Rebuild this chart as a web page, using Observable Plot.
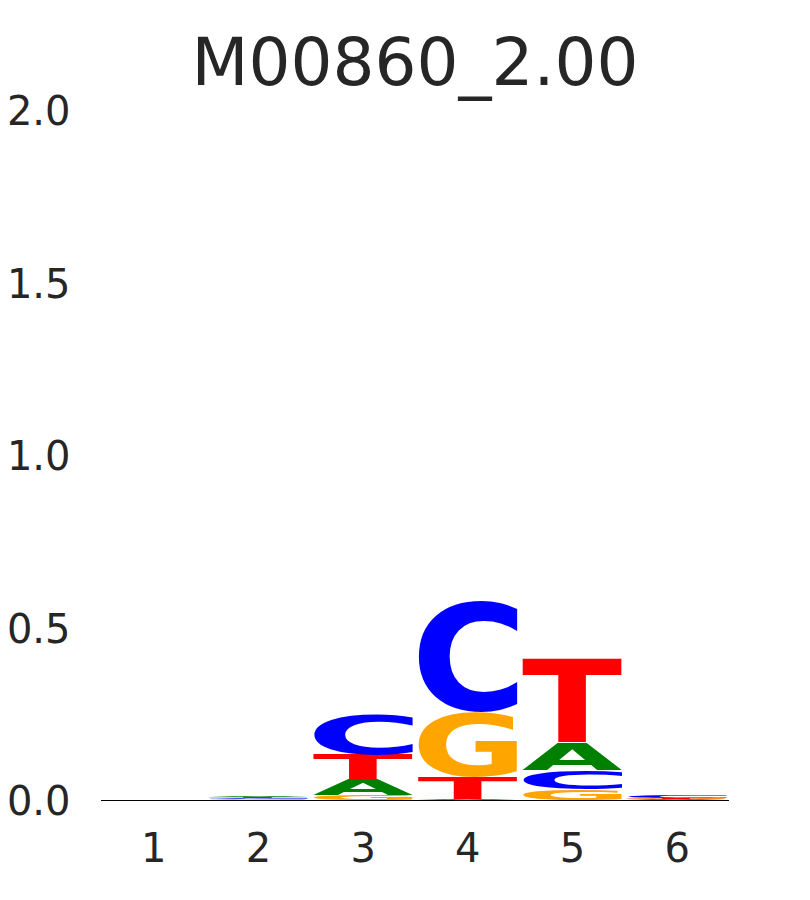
<!DOCTYPE html>
<html>
<head>
<meta charset="utf-8">
<script src="https://cdn.jsdelivr.net/npm/d3@7"></script>
<script src="https://cdn.jsdelivr.net/npm/@observablehq/plot@0.6"></script>
<style>
  body { margin: 0; background: #fff; font-family: "DejaVu Sans", sans-serif; }
  #title { box-sizing: border-box; height: 100px; padding-top: 24px; width: 830px; text-align: center;
           font-size: 66px; line-height: normal; color: #262626; }
</style>
</head>
<body>
<div id="title">M00860_2.00</div>
<div id="chart"></div>
<script>
// Sequence-logo heights (bits) per position
const positions = [1, 2, 3, 4, 5, 6];
const letters = ["A", "C", "G", "T"];
const heightA = [0, 0.005, 0.0435, 0.003, 0.081, 0.0015];
const heightC = [0, 0.003, 0.116, 0.321, 0.055, 0.006];
const heightG = [0, 0.002, 0.0145, 0.190, 0.032, 0.0015];
const heightT = [0, 0.0035, 0.075, 0.064, 0.246, 0.003];
const letterColors = ["#008000", "#0000ff", "#ffa500", "#ff0000"];
const yTicks = [0, 0.5, 1.0, 1.5, 2.0];

const series = {A: heightA, C: heightC, G: heightG, T: heightT};
const colorOf = Object.fromEntries(letters.map((l, i) => [l, letterColors[i]]));

// stack letters per position, smallest at bottom
const rows = [];
positions.forEach((p, i) => {
  const items = letters.map(l => ({letter: l, value: series[l][i]})).filter(d => d.value > 0)
    .sort((a, b) => a.value - b.value);
  let cum = 0;
  for (const it of items) {
    rows.push({pos: p, letter: it.letter, y1: cum, y2: cum + it.value, color: colorOf[it.letter]});
    cum += it.value;
  }
});

// ink metrics of each glyph
const FONT_SIZE = 100;
const canvas = document.createElement("canvas");
const ctx = canvas.getContext("2d");
ctx.font = `bold ${FONT_SIZE}px "DejaVu Sans"`;
ctx.textAlign = "left";
ctx.textBaseline = "alphabetic";
const metrics = {};
for (const l of letters) {
  const m = ctx.measureText(l);
  metrics[l] = {
    left: m.actualBoundingBoxLeft, right: m.actualBoundingBoxRight,
    asc: m.actualBoundingBoxAscent, desc: m.actualBoundingBoxDescent
  };
}

function renderLetters(index, scales, values) {
  const g = d3.create("svg:g");
  for (const i of index) {
    const d = rows[i];
    const xa = Math.min(values.x1[i], values.x2[i]);
    const xb = Math.max(values.x1[i], values.x2[i]);
    const yTop = Math.min(values.y1[i], values.y2[i]);
    const yBot = Math.max(values.y1[i], values.y2[i]);
    const w = xb - xa, h = yBot - yTop;
    if (h <= 0) continue;
    const m = metrics[d.letter];
    const sx = w / (m.left + m.right);
    const sy = h / (m.asc + m.desc);
    g.append("text")
      .attr("transform", `translate(${xa + m.left * sx},${yBot - m.desc * sy}) scale(${sx},${sy})`)
      .attr("font-family", "DejaVu Sans")
      .attr("font-weight", "bold")
      .attr("font-size", FONT_SIZE)
      .attr("text-anchor", "start")
      .attr("dominant-baseline", "alphabetic")
      .attr("fill", d.color)
      .text(d.letter);
  }
  return g.node();
}

const chart = Plot.plot({
  width: 810,
  height: 800,
  marginTop: 10,
  marginBottom: 100,
  marginLeft: 101,
  marginRight: 81,
  style: {fontFamily: "DejaVu Sans", color: "#262626", overflow: "visible"},
  x: {domain: [0.5, 6.5]},
  y: {domain: [0, 2]},
  marks: [
    Plot.rect(rows, {
      x1: d => d.pos - 0.477, x2: d => d.pos + 0.477,
      y1: "y1", y2: "y2", fill: "color",
      render: renderLetters
    }),
    Plot.ruleY([0], {stroke: "#000", strokeWidth: 1}),
    Plot.axisY({ticks: yTicks, tickFormat: d3.format(".1f"), tickSize: 0, tickPadding: 31,
                fontSize: 40, dy: 2, label: null}),
    Plot.axisX({ticks: positions, tickFormat: d => String(d), tickSize: 0, tickPadding: 33,
                fontSize: 40, label: null})
  ]
});
document.getElementById("chart").appendChild(chart);
</script>
</body>
</html>
